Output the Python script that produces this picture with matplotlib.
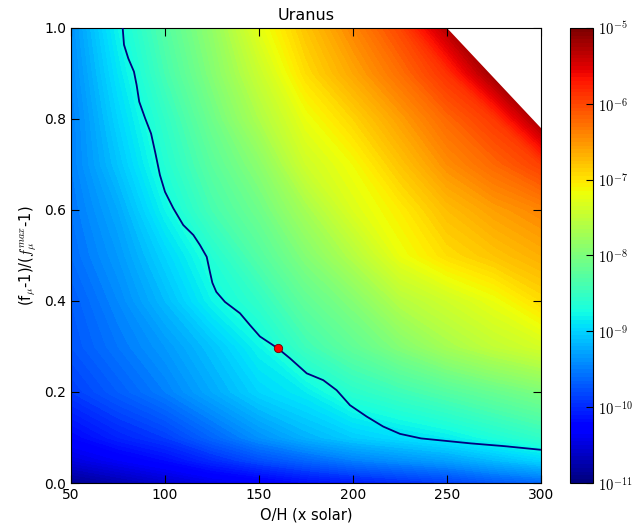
import numpy as np
import matplotlib
matplotlib.use("Agg")
from matplotlib import pyplot as plt
from matplotlib.colors import LogNorm
from matplotlib.cm import ScalarMappable
from matplotlib.ticker import FuncFormatter

plt.rcParams['mathtext.fontset'] = 'cm'
plt.rcParams['font.family'] = ['DejaVu Sans']

# grid: log10 of the plotted quantity
oh = [50, 75, 100, 125, 150, 175, 200, 225, 250, 275, 300]
fmu = [0.0, 0.05, 0.1, 0.2, 0.3, 0.4, 0.5, 0.6, 0.7, 0.8, 0.9, 1.0]
logval = [
    [-10.9, -10.75, -10.6, -10.45, -10.35, -10.2, -10.1, -10.0, -9.9, -9.75, -9.65],
    [-10.5, -10.35, -10.2, -10.0, -9.8, -9.65, -9.5, -9.4, -9.3, -9.15, -9.0],
    [-10.25, -10.05, -9.9, -9.65, -9.4, -9.2, -9.05, -8.95, -8.85, -8.7, -8.55],
    [-9.9, -9.7, -9.5, -9.25, -9.0, -8.85, -8.6, -8.45, -8.3, -8.15, -8.0],
    [-9.75, -9.55, -9.35, -9.1, -8.8, -8.45, -8.2, -7.95, -7.7, -7.5, -7.35],
    [-9.7, -9.45, -9.15, -8.8, -8.55, -8.2, -7.95, -7.6, -7.4, -7.2, -6.95],
    [-9.6, -9.35, -9.0, -8.65, -8.3, -7.95, -7.6, -7.2, -6.95, -6.8, -6.65],
    [-9.55, -9.25, -8.8, -8.4, -8.1, -7.7, -7.3, -7.05, -6.75, -6.55, -6.4],
    [-9.5, -9.1, -8.65, -8.25, -7.9, -7.4, -7.15, -6.8, -6.45, -6.2, -5.95],
    [-9.5, -9.0, -8.55, -8.1, -7.65, -7.2, -6.9, -6.55, -6.2, -5.9, -5.15],
    [-9.45, -8.9, -8.4, -7.95, -7.45, -6.95, -6.6, -6.25, -5.85, -5.15, -5.0],
    [-9.4, -8.8, -8.3, -7.85, -7.25, -6.8, -6.4, -6.0, -5.3, -5.0, -4.9],
]

# corner with no solution (left white)
blank_x = [250, 300, 300]
blank_y = [1.0, 0.78, 1.0]

# highlighted contour
line_x = [77.5, 78.2, 80.5, 83.5, 84.9, 86.3, 89.4, 92.6, 94.9, 97.3, 100.0, 104.4,
          109.7, 115.1, 118.6, 122.2, 123.9, 125.2, 127.3, 131.9, 139.9, 145.2, 150.5,
          160.0, 166.5, 175.4, 184.2, 191.3, 198.4, 207.3, 216.1, 225.0, 236.2, 262.8,
          280.5, 300.0]
line_y = [1.0, 0.963, 0.933, 0.904, 0.875, 0.838, 0.802, 0.768, 0.725, 0.677, 0.640, 0.604,
          0.567, 0.545, 0.523, 0.497, 0.464, 0.440, 0.420, 0.398, 0.373, 0.347, 0.322,
          0.296, 0.274, 0.241, 0.226, 0.204, 0.171, 0.146, 0.124, 0.108, 0.098, 0.087,
          0.081, 0.073]

uranus_x = [160]
uranus_y = [0.296]

fig = plt.figure(figsize=(6.36, 5.32), dpi=100)
ax = fig.add_axes([0.1116, 0.0921, 0.739, 0.8553])
cax = fig.add_axes([0.896, 0.0921, 0.036, 0.8553])

X, Y = np.meshgrid(oh, fmu)
Z = np.array(logval)
ax.contourf(X, Y, Z, levels=np.linspace(-11, -5, 121), cmap='jet', vmin=-11, vmax=-5)
ax.fill(blank_x, blank_y, color='white', lw=0, zorder=2)
ax.plot(line_x, line_y, color='#000080', lw=1.3, zorder=3)
ax.plot(uranus_x, uranus_y, 'o', color='red', mec='#700000', mew=0.6, ms=6, zorder=4)

ax.set_xlim(50, 300)
ax.set_ylim(0, 1)
ax.set_xticks([50, 100, 150, 200, 250, 300])
ax.set_yticks([0.0, 0.2, 0.4, 0.6, 0.8, 1.0])
ax.tick_params(direction='in', top=True, right=True, length=6, labelsize=10)
ax.set_title('Uranus', fontsize=11.5)
ax.set_xlabel('O/H (x solar)', fontsize=10.5)
ax.set_ylabel(r'(f$_\mu$-1)/($f_\mu^{max}$-1)', fontsize=10.5)

sm = ScalarMappable(norm=LogNorm(1e-11, 1e-5), cmap=plt.get_cmap('jet', 120))
cb = fig.colorbar(sm, cax=cax)
cb.set_ticks([1e-11, 1e-10, 1e-9, 1e-8, 1e-7, 1e-6, 1e-5])
cb.ax.yaxis.set_major_formatter(FuncFormatter(lambda v, p: r'$10^{%d}$' % round(np.log10(v))))
cb.ax.minorticks_off()
cb.ax.tick_params(direction='in', length=5, labelsize=10.5)

plt.savefig('out.png', dpi=100)
